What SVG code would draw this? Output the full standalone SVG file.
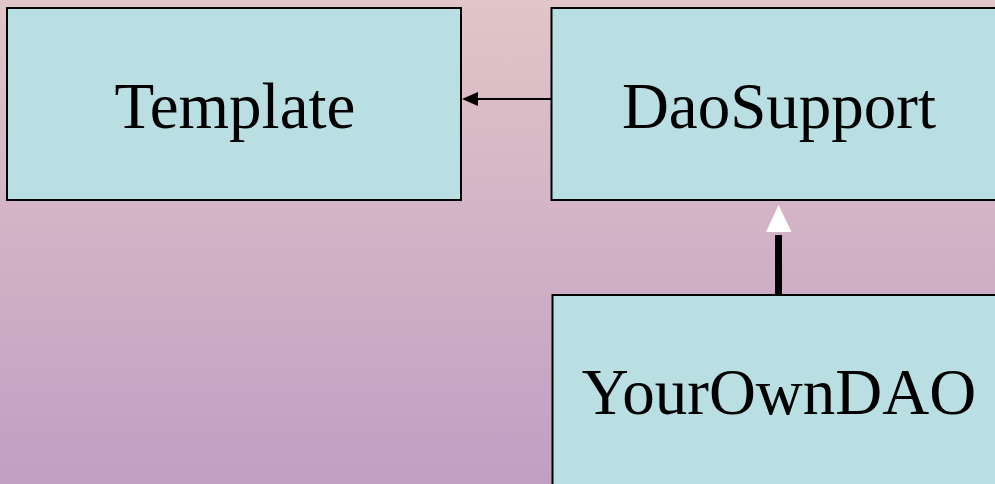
<svg xmlns="http://www.w3.org/2000/svg" width="995" height="484" viewBox="0 0 995 484">
  <defs>
    <linearGradient id="bg" x1="0" y1="0" x2="0" y2="1">
      <stop offset="0" stop-color="#e2c5c7"/>
      <stop offset="1" stop-color="#c19ec4"/>
    </linearGradient>
  </defs>
  <style>
    .box { fill: #b9dfe2; stroke: #000; stroke-width: 2; }
    .label { font-family: "Liberation Serif", "Times New Roman", serif; font-size: 65px; fill: #000; text-anchor: middle; }
  </style>
  <rect x="0" y="0" width="995" height="484" fill="url(#bg)"/>

  <g id="connectors">
    <!-- association: DaoSupport uses Template -->
    <line x1="551" y1="99" x2="476" y2="99" stroke="#000" stroke-width="2"/>
    <polygon points="462,99 478,92 478,106" fill="#000"/>
    <!-- generalization: YourOwnDAO extends DaoSupport -->
    <line x1="778.5" y1="295" x2="778.5" y2="235" stroke="#000" stroke-width="7"/>
    <polygon points="778.5,205 791.5,232 766,232" fill="#fff"/>
  </g>

  <g id="template">
    <rect class="box" x="7" y="8" width="454" height="192"/>
    <text class="label" x="235" y="128">Template</text>
  </g>

  <g id="daosupport">
    <rect class="box" x="551.5" y="8" width="456" height="192"/>
    <text class="label" x="779" y="128">DaoSupport</text>
  </g>

  <g id="yourowndao">
    <rect class="box" x="552.5" y="295" width="456" height="200"/>
    <text class="label" x="779" y="414">YourOwnDAO</text>
  </g>
</svg>
